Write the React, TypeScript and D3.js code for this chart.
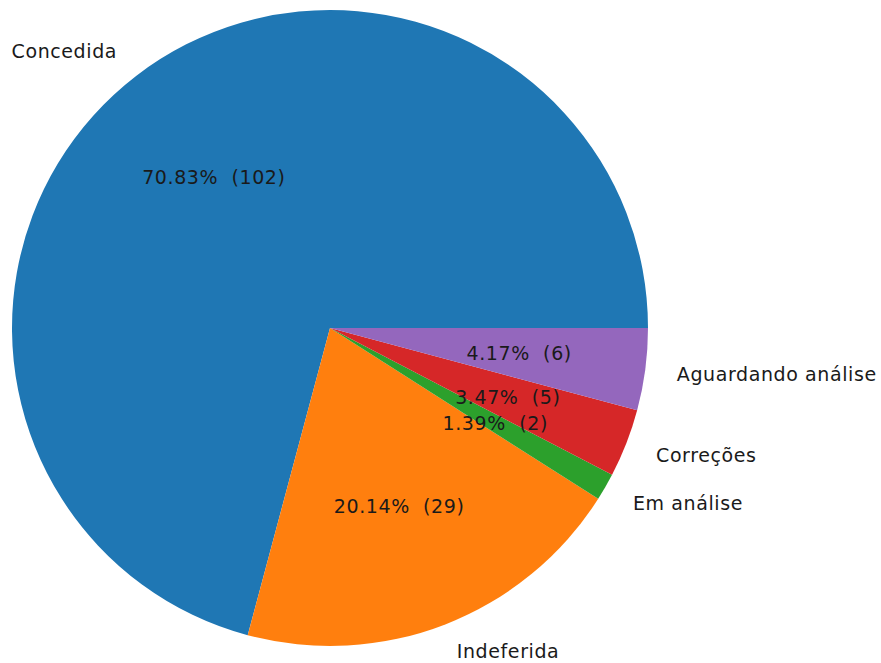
import { useEffect, useRef } from 'react'
import * as d3 from 'd3'

const categories = ['Concedida', 'Indeferida', 'Em análise', 'Correções', 'Aguardando análise']
const counts = [102, 29, 2, 5, 6]
const colors = ['#1f77b4', '#ff7f0e', '#2ca02c', '#d62728', '#9467bd']

export default function App() {
  const svgRef = useRef<SVGSVGElement>(null)

  useEffect(() => {
    document.body.style.margin = '0'
    if (!svgRef.current) return
    const svg = d3.select(svgRef.current)
    svg.selectAll('*').remove()

    const cx = 330
    const cy = 328
    const radius = 318
    const total = d3.sum(counts)

    const rows = categories.map((name, i) => ({ name, value: counts[i], color: colors[i] }))

    // matplotlib style: start at 3 o'clock, go counterclockwise
    const pie = d3.pie<{ name: string, value: number, color: string }>()
      .sort(null)
      .value(d => d.value)
      .startAngle(Math.PI / 2)
      .endAngle(Math.PI / 2 - 2 * Math.PI)

    const arc = d3.arc<d3.PieArcDatum<{ name: string, value: number, color: string }>>()
      .innerRadius(0)
      .outerRadius(radius)

    const g = svg.append('g').attr('transform', `translate(${cx},${cy})`)
    const arcs = pie(rows)

    g.selectAll('path.slice')
      .data(arcs)
      .join('path')
      .attr('class', 'slice')
      .attr('d', arc)
      .attr('fill', d => d.data.color)

    const font = '"DejaVu Sans", sans-serif'
    const fontSize = 19

    arcs.forEach(a => {
      const mid = (a.startAngle + a.endAngle) / 2
      const sx = Math.sin(mid)
      const sy = -Math.cos(mid)

      g.append('text')
        .attr('x', sx * radius * 1.1)
        .attr('y', Math.min(sy * radius * 1.1, 323))
        .attr('text-anchor', sx > 0 ? 'start' : 'end')
        .attr('dominant-baseline', 'central')
        .style('font-family', font)
        .style('font-size', `${fontSize}px`)
        .style('letter-spacing', '0.6px')
        .style('fill', '#1a1a1a')
        .text(a.data.name)

      const pct = (a.data.value / total) * 100
      g.append('text')
        .attr('x', sx * radius * 0.6)
        .attr('y', sy * radius * 0.6)
        .attr('text-anchor', 'middle')
        .attr('dominant-baseline', 'central')
        .style('font-family', font)
        .style('font-size', `${fontSize}px`)
        .style('letter-spacing', '0.6px')
        .style('fill', '#1a1a1a')
        .style('white-space', 'pre')
        .text(`${pct.toFixed(2)}%  (${a.data.value})`)
    })
  }, [])

  return (
    <svg ref={svgRef} width={881} height={663} style={{ display: 'block', background: '#fff' }} />
  )
}
